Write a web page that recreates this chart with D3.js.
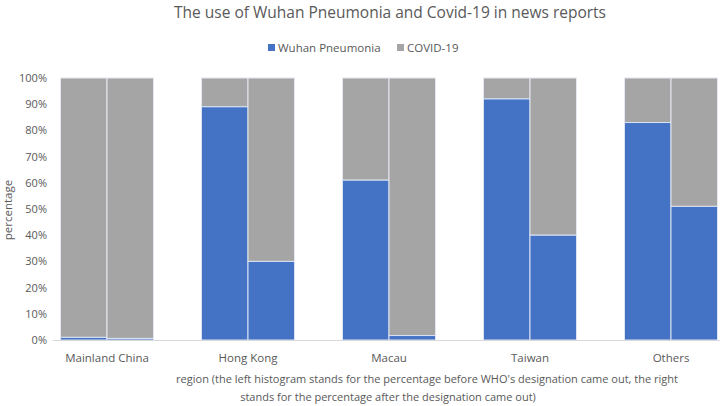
<!DOCTYPE html>
<html>
<head>
<meta charset="utf-8">
<script src="https://cdn.jsdelivr.net/npm/d3@7"></script>
<style>
  body { margin: 0; background: #fff; }
  text { font-family: "Open Sans", "Liberation Sans", sans-serif; fill: #595959; }
</style>
</head>
<body>
<svg id="chart" width="720" height="406"></svg>
<script>
var regions = ["Mainland China", "Hong Kong", "Macau", "Taiwan", "Others"];
var periods = ["before", "after"];
// share of "Wuhan Pneumonia" (percent), the rest is COVID-19
var wuhanBefore = [1, 89, 61, 92, 83];
var wuhanAfter = [0.6, 30, 1.7, 40, 51];
var yTicks = [0, 10, 20, 30, 40, 50, 60, 70, 80, 90, 100];

var colors = { wuhan: "#4472C4", covid: "#A5A5A5" };

var svg = d3.select("#chart");

var x0 = d3.scaleBand().domain(regions).range([36.5, 741.5]);
var x1 = d3.scaleBand().domain(periods)
    .range([0, x0.bandwidth()])
    .paddingOuter(0.516);
var y = d3.scaleLinear().domain([0, 100]).range([340, 78]);

// rows: one per bar
var rows = [];
regions.forEach(function(r, i) {
    rows.push({region: r, period: "before", wuhan: wuhanBefore[i]});
    rows.push({region: r, period: "after", wuhan: wuhanAfter[i]});
});

var bars = svg.append("g").selectAll("g")
    .data(rows)
    .enter()
    .append("g")
    .attr("transform", d => "translate(" + (x0(d.region) + x1(d.period)) + ",0)");

bars.append("rect")
    .attr("width", x1.bandwidth())
    .attr("y", y(100))
    .attr("height", d => y(d.wuhan) - y(100))
    .attr("fill", colors.covid)
    .attr("stroke", "#e4e8f0")
    .attr("stroke-width", 1);

bars.append("rect")
    .attr("width", x1.bandwidth())
    .attr("y", d => y(d.wuhan))
    .attr("height", d => y(0) - y(d.wuhan))
    .attr("fill", colors.wuhan)
    .attr("stroke", "#dbe3f4")
    .attr("stroke-width", 1);

// baseline
svg.append("line")
    .attr("x1", 53).attr("x2", 720)
    .attr("y1", y(0) + 0.5).attr("y2", y(0) + 0.5)
    .attr("stroke", "#d9d9d9");

// y axis labels
var yAxis = d3.axisLeft(y)
    .tickValues(yTicks)
    .tickFormat(d => d + "%")
    .tickSize(0)
    .tickPadding(0);
var ya = svg.append("g").attr("transform", "translate(47,0)").call(yAxis);
ya.select(".domain").remove();
ya.selectAll("text")
    .style("font-family", "'Open Sans', sans-serif")
    .style("font-size", "11px")
    .attr("fill", "#595959");

// x labels
var xAxis = d3.axisBottom(x0).tickSize(0).tickPadding(0);
var xa = svg.append("g").attr("transform", "translate(0,354)").call(xAxis);
xa.select(".domain").remove();
xa.selectAll("text")
    .style("font-family", "'Open Sans', sans-serif")
    .style("font-size", "11.5px")
    .attr("fill", "#595959");

// title
svg.append("text")
    .attr("x", 390).attr("y", 18)
    .attr("text-anchor", "middle")
    .style("font-size", "15.5px")
    .text("The use of Wuhan Pneumonia and Covid-19 in news reports");

// legend
var legend = [
    {label: "Wuhan Pneumonia", color: colors.wuhan, x: 268},
    {label: "COVID-19", color: colors.covid, x: 397}
];
var lg = svg.append("g").selectAll("g").data(legend).enter().append("g")
    .attr("transform", d => "translate(" + d.x + ",42)");
lg.append("rect").attr("width", 7).attr("height", 7).attr("y", 2).attr("fill", d => d.color);
lg.append("text").attr("x", 10).attr("y", 9.5)
    .style("font-size", "11.5px")
    .text(d => d.label);

// axis titles
svg.append("text")
    .attr("transform", "translate(12,210) rotate(-90)")
    .attr("text-anchor", "middle")
    .style("font-size", "11.5px")
    .text("percentage");

svg.append("text")
    .attr("x", 427).attr("y", 383)
    .attr("text-anchor", "middle")
    .style("font-size", "11px")
    .text("region (the left histogram stands for the percentage before WHO's designation came out, the right");
svg.append("text")
    .attr("x", 388).attr("y", 401)
    .attr("text-anchor", "middle")
    .style("font-size", "11px")
    .text("stands for the percentage after the designation came out)");
</script>
</body>
</html>
